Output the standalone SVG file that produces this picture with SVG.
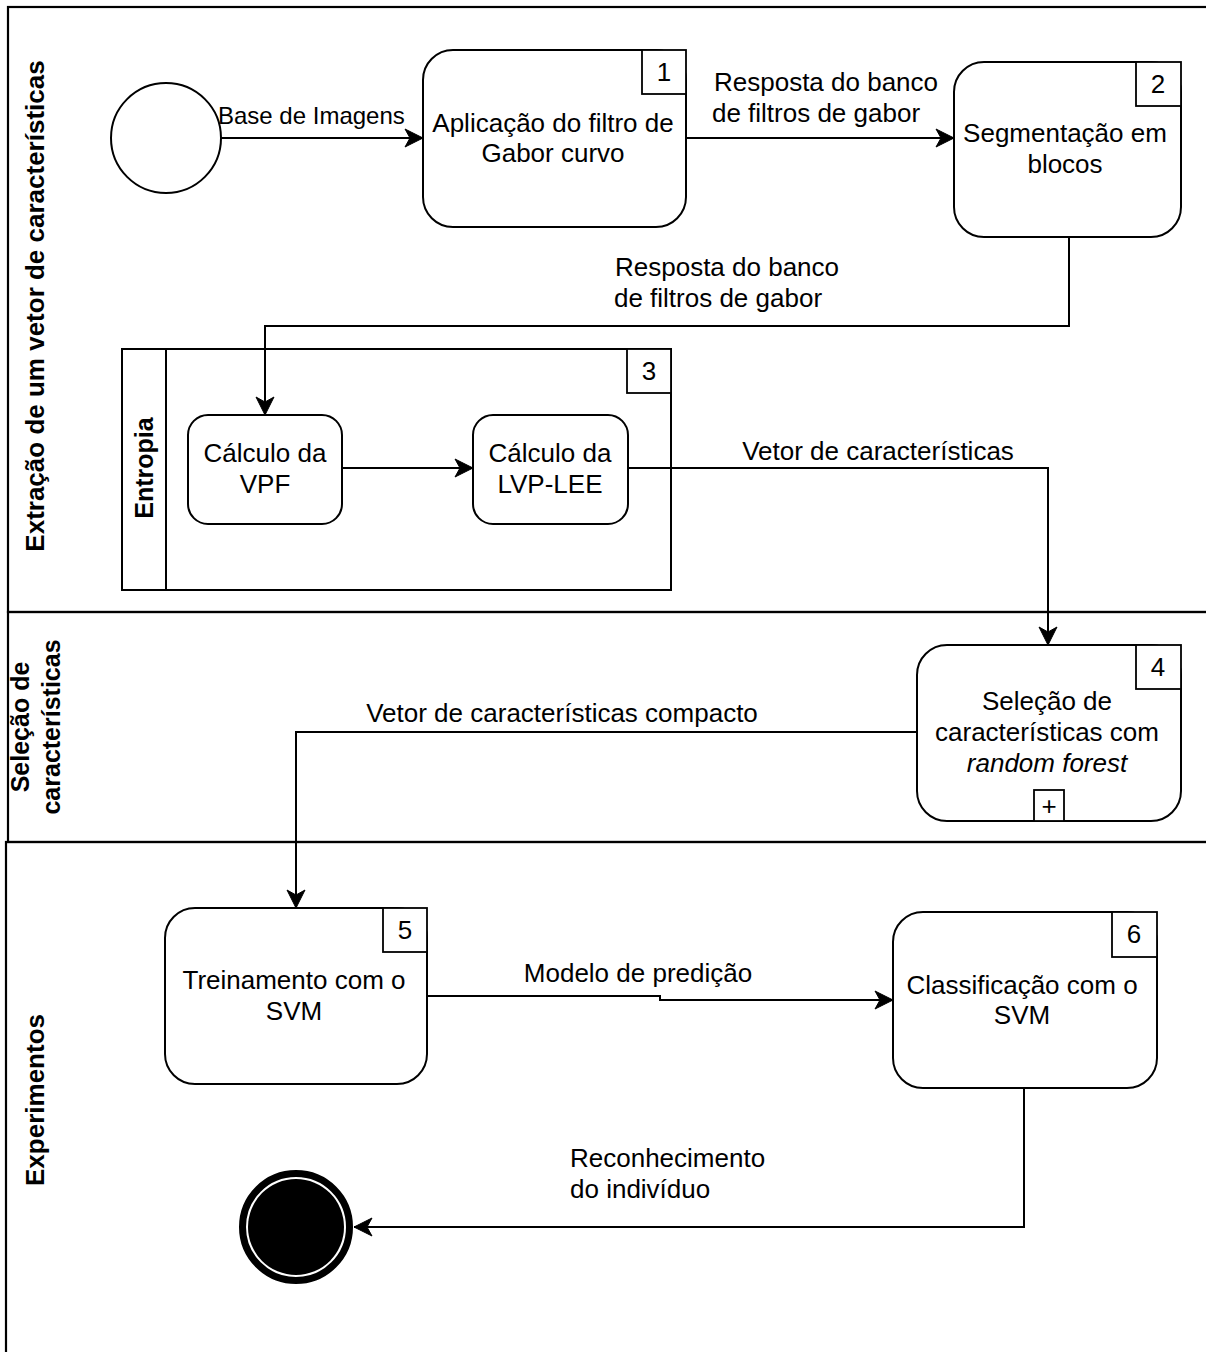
<svg xmlns="http://www.w3.org/2000/svg" width="1206" height="1352" viewBox="0 0 1206 1352">
<defs>
<marker id="arr" markerUnits="userSpaceOnUse" markerWidth="22" markerHeight="22" refX="19" refY="11" orient="auto" viewBox="0 0 22 22" overflow="visible">
<path d="M1,2 L19,11 L1,20 L6,11 z" fill="#000" stroke="#000" stroke-width="1" stroke-linejoin="miter"/>
</marker>
<style>
.lane{fill:none;stroke:#000;stroke-width:2.2}
.box{fill:#fff;stroke:#000;stroke-width:2}
.pool{fill:none;stroke:#000;stroke-width:2}
.num{fill:#fff;stroke:#000;stroke-width:1.8}
.t{font-family:"Liberation Sans",Arial,sans-serif;font-size:26px;fill:#000;text-anchor:middle}
.el{font-family:"Liberation Sans",Arial,sans-serif;font-size:26px;fill:#000}
.lb{font-family:"Liberation Sans",Arial,sans-serif;font-size:26px;font-weight:bold;fill:#000;text-anchor:middle}
.c{fill:none;stroke:#000;stroke-width:2;marker-end:url(#arr)}
</style>
</defs>
<rect width="1206" height="1352" fill="#fff"/>
<g id="lanes">
<rect class="lane" x="8" y="7" width="1220" height="605"/>
<rect class="lane" x="8" y="612" width="1220" height="230"/>
<rect class="lane" x="6" y="842" width="1222" height="530"/>
<text class="lb" transform="translate(44,306) rotate(-90)">Extração de um vetor de características</text>
<text class="lb" style="font-size:25px" transform="translate(29,727) rotate(-90)">Seleção de</text>
<text class="lb" style="font-size:25px" transform="translate(60,727) rotate(-90)">características</text>
<text class="lb" transform="translate(44,1100) rotate(-90)">Experimentos</text>
</g>
<g id="start">
<circle cx="166" cy="138" r="55" fill="#fff" stroke="#000" stroke-width="2"/>
</g>
<g id="n1">
<rect class="box" x="423" y="50" width="263" height="177" rx="30"/>
<rect class="num" x="642" y="50" width="44" height="44"/>
<text class="t" x="664" y="81">1</text>
<text class="t" x="553" y="132">Aplicação do filtro de</text>
<text class="t" x="553" y="162">Gabor curvo</text>
</g>
<g id="n2">
<rect class="box" x="954" y="62" width="227" height="175" rx="30"/>
<rect class="num" x="1136" y="62" width="45" height="44"/>
<text class="t" x="1158" y="93">2</text>
<text class="t" x="1065" y="142">Segmentação em</text>
<text class="t" x="1065" y="173">blocos</text>
</g>
<g id="n3">
<rect class="pool" x="122" y="349" width="549" height="241"/>
<line x1="166" y1="349" x2="166" y2="590" stroke="#000" stroke-width="2"/>
<rect class="num" x="627" y="349" width="44" height="44"/>
<text class="t" x="649" y="380">3</text>
<text class="lb" style="font-size:25px" transform="translate(153,468) rotate(-90)">Entropia</text>
</g>
<g id="n3a">
<rect class="box" x="188" y="415" width="154" height="109" rx="20"/>
<text class="t" x="265" y="462">Cálculo da</text>
<text class="t" x="265" y="493">VPF</text>
</g>
<g id="n3b">
<rect class="box" x="473" y="415" width="155" height="109" rx="20"/>
<text class="t" x="550" y="462">Cálculo da</text>
<text class="t" x="550" y="493">LVP-LEE</text>
</g>
<g id="n4">
<rect class="box" x="917" y="645" width="264" height="176" rx="30"/>
<rect class="num" x="1136" y="645" width="45" height="44"/>
<text class="t" x="1158" y="676">4</text>
<text class="t" x="1047" y="710">Seleção de</text>
<text class="t" x="1047" y="741">características com</text>
<text class="t" x="1047" y="772" font-style="italic">random forest</text>
<rect class="num" x="1034" y="790" width="30" height="31"/>
<text class="t" x="1049" y="815">+</text>
</g>
<g id="n5">
<rect class="box" x="165" y="908" width="262" height="176" rx="30"/>
<rect class="num" x="383" y="908" width="44" height="44"/>
<text class="t" x="405" y="939">5</text>
<text class="t" x="294" y="989">Treinamento com o</text>
<text class="t" x="294" y="1020">SVM</text>
</g>
<g id="n6">
<rect class="box" x="893" y="912" width="264" height="176" rx="30"/>
<rect class="num" x="1112" y="912" width="45" height="45"/>
<text class="t" x="1134" y="943">6</text>
<text class="t" x="1022" y="994">Classificação com o</text>
<text class="t" x="1022" y="1024">SVM</text>
</g>
<g id="end">
<circle cx="296" cy="1227" r="53.5" fill="#fff" stroke="#000" stroke-width="7"/>
<circle cx="296" cy="1227" r="48" fill="#000"/>
</g>
<g id="connectors">
<path class="c" d="M221,138 L423,138"/>
<text class="el" x="218" y="124" style="font-size:24px">Base de Imagens</text>
<path class="c" d="M686,138 L954,138"/>
<text class="t" x="826" y="91">Resposta do banco</text>
<text class="t" x="816" y="122">de filtros de gabor</text>
<path class="c" d="M1069,237 L1069,326 L265,326 L265,415"/>
<text class="t" x="727" y="276">Resposta do banco</text>
<text class="t" x="718" y="307">de filtros de gabor</text>
<path class="c" d="M342,468 L473,468"/>
<path class="c" d="M628,468 L1048,468 L1048,645"/>
<text class="t" x="878" y="460">Vetor de características</text>
<path class="c" d="M917,732 L296,732 L296,908"/>
<text class="t" x="562" y="722">Vetor de características compacto</text>
<path class="c" d="M427,996 L660,996 L660,1000 L893,1000"/>
<text class="t" x="638" y="982">Modelo de predição</text>
<path class="c" d="M1024,1088 L1024,1227 L354,1227"/>
<text class="el" x="570" y="1167">Reconhecimento</text>
<text class="el" x="570" y="1198">do indivíduo</text>
</g>
</svg>
